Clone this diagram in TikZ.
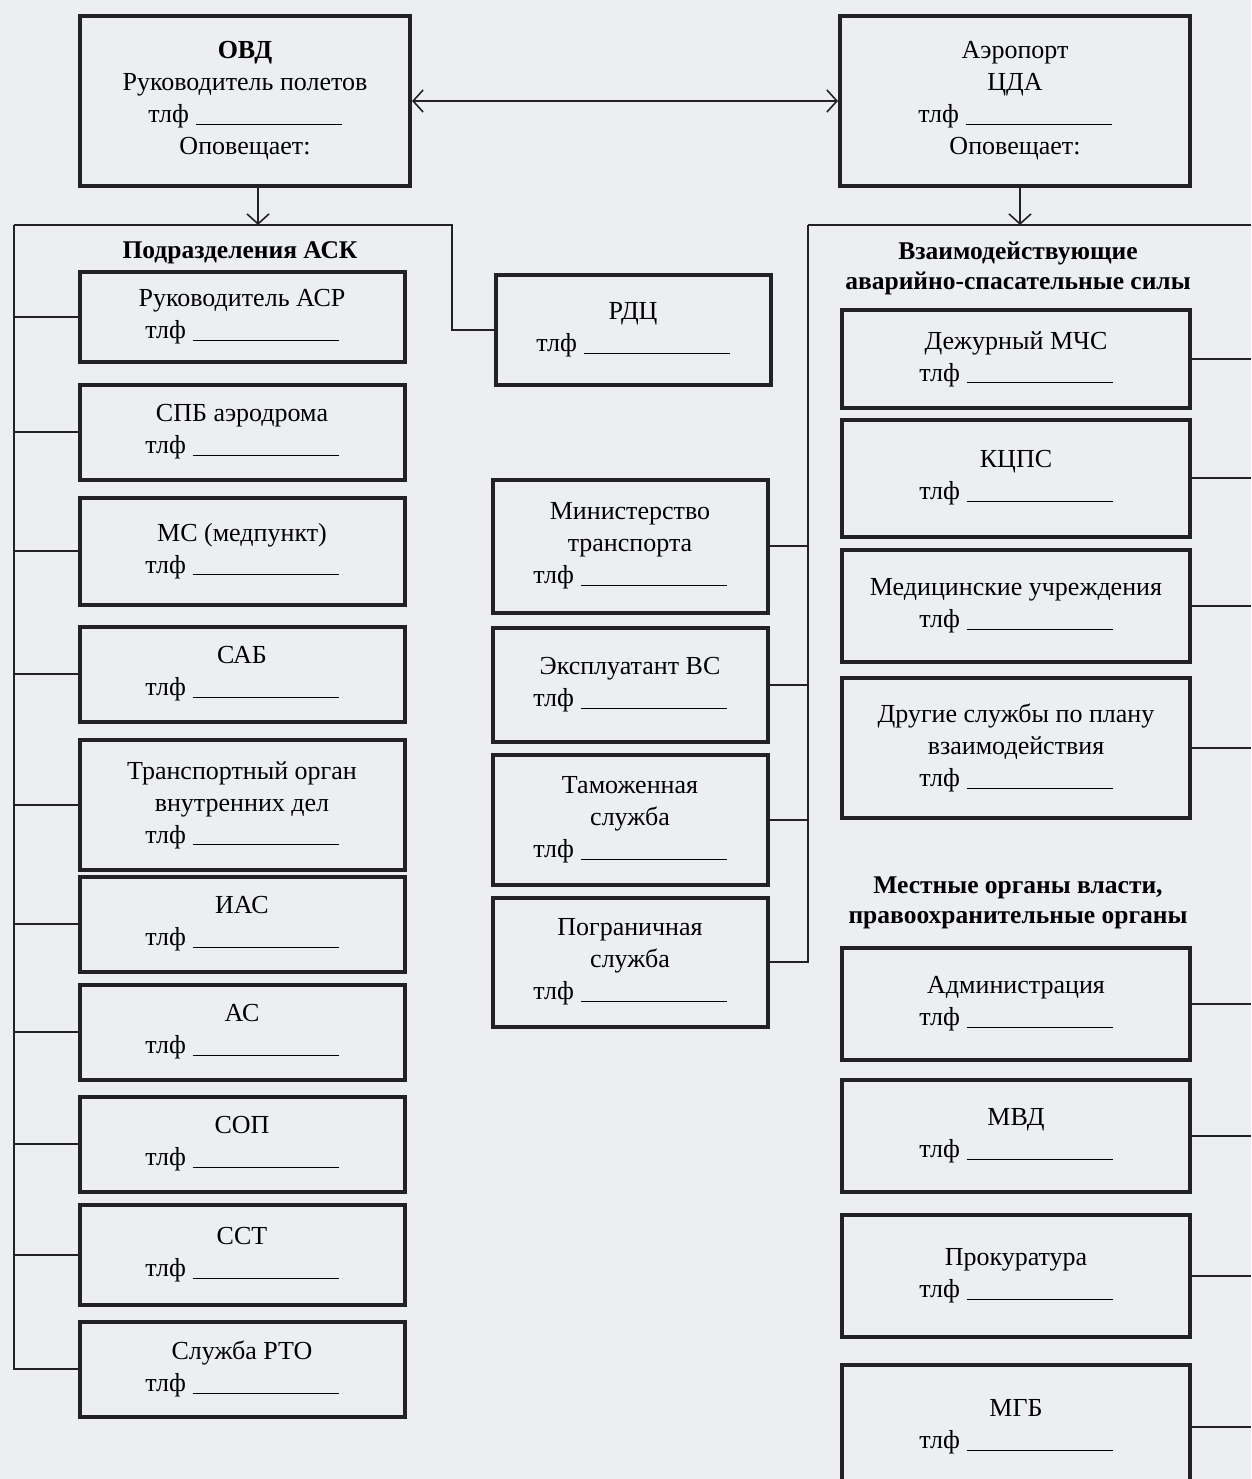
\documentclass[tikz,border=0pt]{standalone}
\usepackage{fontspec}
\setmainfont{Liberation Serif}
\usepackage{tikz}
\usetikzlibrary{arrows.meta}
\definecolor{paper}{RGB}{236,238,242}
\definecolor{ink}{RGB}{34,34,38}
\newcommand{\tlf}{тлф \rule[-2pt]{146pt}{0.9pt}}
\tikzset{
  unit/.style={draw=ink, line width=4pt, align=center, inner sep=2pt,
    font=\fontsize{26}{32}\selectfont},
  leftunit/.style={unit, minimum width=325pt},
  midunit/.style={unit, minimum width=275pt},
  rightunit/.style={unit, minimum width=348pt},
  heading/.style={align=center, font=\bfseries\fontsize{25.5}{30}\selectfont},
  link/.style={draw=ink, line width=1.6pt},
  barb/.tip={Straight Barb[length=10pt, width=22pt, line width=1.6pt]},
  notify/.style={link, -barb}
}

\begin{document}
\begin{tikzpicture}[x=1pt, y=-1pt]
  \fill[paper] (0,0) rectangle (1251,1479);
  \useasboundingbox (0,0) rectangle (1251,1479);

  % top row
  \node[unit, minimum width=330pt, minimum height=170pt] (ovd) at (245,101)
    {\textbf{ОВД}\\Руководитель полетов\\\tlf\\Оповещает:};
  \node[unit, minimum width=350pt, minimum height=170pt] (aero) at (1015,101)
    {Аэропорт\\ЦДА\\\tlf\\Оповещает:};

  % headings
  \node[heading] (askhead) at (240,253) {Подразделения АСК};
  \node[heading] (asshead) at (1018,268) {Взаимодействующие\\аварийно-спасательные силы};
  \node[heading] (vlasthead) at (1018,903) {Местные органы власти,\\правоохранительные органы};

  % left column
  \node[leftunit, minimum height=90pt] (asr) at (242,317) {Руководитель АСР\\\tlf};
  \node[leftunit, minimum height=95pt] (spb) at (242,432) {СПБ аэродрома\\\tlf};
  \node[leftunit, minimum height=107pt] (ms) at (242,551) {МС (медпункт)\\\tlf};
  \node[leftunit, minimum height=95pt] (sab) at (242,674) {САБ\\\tlf};
  \node[leftunit, minimum height=130pt] (toivd) at (242,805) {Транспортный орган\\внутренних дел\\\tlf};
  \node[leftunit, minimum height=95pt] (ias) at (242,924) {ИАС\\\tlf};
  \node[leftunit, minimum height=95pt] (as) at (242,1032) {АС\\\tlf};
  \node[leftunit, minimum height=95pt] (sop) at (242,1144) {СОП\\\tlf};
  \node[leftunit, minimum height=100pt] (sst) at (242,1255) {ССТ\\\tlf};
  \node[leftunit, minimum height=95pt] (rto) at (242,1369) {Служба РТО\\\tlf};

  % middle column
  \node[midunit, minimum height=110pt] (rdc) at (633,330) {РДЦ\\\tlf};
  \node[midunit, minimum height=133pt] (mintrans) at (630,546) {Министерство\\транспорта\\\tlf};
  \node[midunit, minimum height=114pt] (ekspl) at (630,685) {Эксплуатант ВС\\\tlf};
  \node[midunit, minimum height=130pt] (tamozh) at (630,820) {Таможенная\\служба\\\tlf};
  \node[midunit, minimum height=129pt] (pogr) at (630,962) {Пограничная\\служба\\\tlf};

  % right column
  \node[rightunit, minimum height=98pt] (mchs) at (1016,359) {Дежурный МЧС\\\tlf};
  \node[rightunit, minimum height=117pt] (kcps) at (1016,478) {КЦПС\\\tlf};
  \node[rightunit, minimum height=112pt] (med) at (1016,606) {Медицинские учреждения\\\tlf};
  \node[rightunit, minimum height=140pt] (drugie) at (1016,748) {Другие службы по плану\\взаимодействия\\\tlf};
  \node[rightunit, minimum height=112pt] (adm) at (1016,1004) {Администрация\\\tlf};
  \node[rightunit, minimum height=112pt] (mvd) at (1016,1136) {МВД\\\tlf};
  \node[rightunit, minimum height=122pt] (prok) at (1016,1276) {Прокуратура\\\tlf};
  \node[rightunit, minimum height=125pt] (mgb) at (1016,1427) {МГБ\\\tlf};

  % buses
  \coordinate (askbus) at (14,225);
  \coordinate (rdcbend) at (452,225);
  \coordinate (midbus) at (808,225);
  \coordinate (edge) at (1251,225);

  % connectors
  \draw[link, barb-barb] (ovd) -- (aero);
  \draw[notify] ([xshift=13pt]ovd.south) -- ([xshift=13pt]ovd.south |- askbus);
  \draw[notify] ([xshift=5pt]aero.south) -- ([xshift=5pt]aero.south |- midbus);

  \draw[link] (askbus) -- (rdcbend) |- (rdc.west);
  \draw[link] (askbus) |- (rto.west);
  \foreach \n in {asr,spb,ms,sab,toivd,ias,as,sop,sst}
    \draw[link] (\n.west) -- (\n.west -| askbus);

  \draw[link] (midbus) -- (edge);
  \draw[link] (midbus) |- (pogr.east);
  \foreach \n in {mintrans,ekspl,tamozh}
    \draw[link] (\n.east) -- (\n.east -| midbus);

  \foreach \n in {mchs,kcps,med,drugie,adm,mvd,prok,mgb}
    \draw[link] (\n.east) -- (\n.east -| edge);
\end{tikzpicture}
\end{document}
